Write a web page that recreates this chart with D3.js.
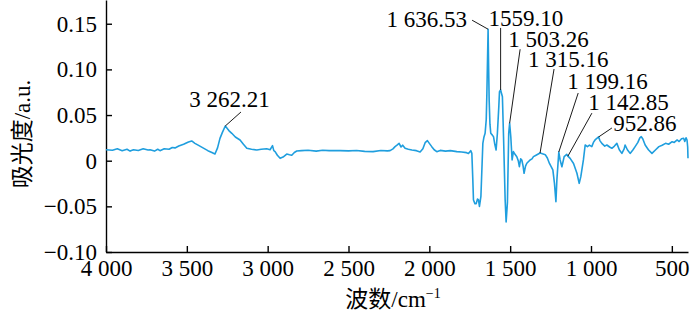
<!DOCTYPE html>
<html>
<head>
<meta charset="utf-8">
<script src="https://cdn.jsdelivr.net/npm/d3@7"></script>
<style>
  body { margin: 0; background: #fff; }
  text { font-family: "Liberation Serif", "Times New Roman", serif; }
</style>
</head>
<body>
<svg width="700" height="315"></svg>
<script>
// spectrum (wavenumber in cm-1, absorbance in a.u.)
var wavenumber = [4000,3960,3930,3900,3870,3851,3830,3800,3770,3740,3728,3700,3680,3666,3640,3610,3590,3573,3550,3520,3490,3470,3450,3430,3400,3370,3345,3326,3310,3295,3280,3262.21,3240,3222,3200,3171,3150,3129,3100,3067,3040,3006,2985,2970,2962,2954,2940,2923,2905,2882,2865,2851,2835,2820,2790,2750,2700,2660,2620,2580,2552,2500,2450,2400,2348,2300,2260,2243,2225,2212,2200,2187,2175,2165,2150,2130,2108,2080,2057,2040,2026,2012,2000,1985,1970,1954,1933,1900,1870,1830,1800,1770,1758,1744,1737,1731,1727,1718,1710,1702,1696,1690,1681,1675,1669,1662,1655,1648,1644,1636.53,1633,1630,1625,1620,1610,1603,1595,1587,1579,1570,1566,1559.10,1548,1541,1531,1525,1517,1509,1503.26,1496,1488,1480,1470,1459,1450,1443,1435,1428,1420,1414,1405,1397,1377,1365,1356,1340,1315.16,1300,1283,1270,1257,1236,1226,1217,1211,1199.16,1191,1180,1166,1150,1142.85,1129,1108,1087,1073,1063,1047,1036,1022,1010,995,985,975,952.86,945,933,915,902,885,871,855,840,825,809,795,789,775,758,740,727,710,698,689,680,665,645,623,600,580,560,539,520,498,485,467,455,440,427,420,412,406,402,400];
var absorbance = [0.012,0.0115,0.013,0.011,0.0125,0.0105,0.012,0.0112,0.013,0.0118,0.012,0.0105,0.0125,0.011,0.013,0.0125,0.0145,0.014,0.016,0.018,0.0205,0.0216,0.019,0.017,0.014,0.011,0.009,0.0073,0.014,0.0245,0.031,0.038,0.033,0.030,0.026,0.0227,0.018,0.0136,0.0125,0.0117,0.0125,0.013,0.012,0.0165,0.011,0.010,0.006,0.0026,0.004,0.0073,0.0065,0.006,0.009,0.0106,0.011,0.0115,0.0105,0.0115,0.011,0.0112,0.011,0.0108,0.0112,0.0102,0.0099,0.0112,0.0108,0.011,0.013,0.0154,0.017,0.019,0.015,0.017,0.0136,0.0125,0.0117,0.011,0.0095,0.013,0.0197,0.022,0.019,0.0154,0.012,0.0099,0.0113,0.0105,0.011,0.0099,0.0095,0.0088,0.008,0.011,0.008,-0.021,-0.043,-0.047,-0.047,-0.042,-0.043,-0.050,-0.039,-0.010,0.019,0.026,0.030,0.045,0.074,0.144,0.100,0.0666,0.040,0.030,0.028,0.0263,0.018,0.0117,0.030,0.060,0.0757,0.0775,0.070,0.026,-0.043,-0.067,-0.046,0.030,0.041,0.026,0.0008,0.0099,0.007,0.0044,0.000,-0.0066,0.002,0.0008,-0.006,-0.0138,-0.006,-0.0028,0.0008,0.002,0.0044,0.006,0.0084,0.0075,0.0066,0.003,-0.003,-0.010,-0.0248,-0.045,-0.021,0.0095,0.0008,-0.0066,0.0044,0.007,0.005,0.0026,-0.003,-0.0138,-0.0248,-0.0175,0.0008,0.0172,0.0154,0.017,0.0154,0.020,0.0227,0.026,0.022,0.019,0.016,0.0172,0.015,0.0136,0.016,0.019,0.012,0.008,0.013,0.0172,0.012,0.008,0.012,0.0154,0.020,0.025,0.0263,0.024,0.0172,0.012,0.008,0.012,0.0154,0.017,0.019,0.018,0.0208,0.020,0.0227,0.021,0.024,0.0245,0.021,0.025,0.0227,0.015,0.0026];

// labelled peaks
var peakWn = [3262.21, 1636.53, 1559.10, 1503.26, 1315.16, 1199.16, 1142.85, 952.86];
var peakAbs = [0.038, 0.144, 0.0775, 0.041, 0.0084, 0.0095, 0.005, 0.026];
var peakLabel = ["3 262.21", "1 636.53", "1559.10", "1 503.26", "1 315.16", "1 199.16", "1 142.85", "952.86"];

var xTicks = [4000, 3500, 3000, 2500, 2000, 1500, 1000, 500];
var yTicks = [-0.10, -0.05, 0, 0.05, 0.10, 0.15];

var svg = d3.select("svg");
var plotLeft = 106, plotRight = 688, plotTop = 0, plotBottom = 252;

var x = d3.scaleLinear().domain([4000, 400]).range([plotLeft, plotRight]);
var y = d3.scaleLinear().domain([-0.10, 0.176]).range([plotBottom, plotTop]);

// axes
var xAxis = svg.append("g")
  .attr("transform", "translate(0," + plotBottom + ")")
  .call(d3.axisBottom(x).tickValues(xTicks).tickSize(-6).tickSizeOuter(0).tickPadding(8)
    .tickFormat(function(d) { return d3.format(",")(d).replace(",", " "); }));

var yAxis = svg.append("g")
  .attr("transform", "translate(" + plotLeft + ",0)")
  .call(d3.axisLeft(y).tickValues(yTicks).tickSize(-6).tickSizeOuter(0).tickPadding(9)
    .tickFormat(function(d) { return d === 0 ? "0" : d3.format(".2f")(d); }));

[xAxis, yAxis].forEach(function(g) {
  g.attr("font-size", 23).attr("font-family", "Liberation Serif, serif");
  g.selectAll("path, line").attr("stroke", "#000").attr("stroke-width", 1.4);
  g.selectAll("text").attr("fill", "#000");
});

// spectrum
var pts = wavenumber.map(function(w, i) { return [w, absorbance[i]]; });
svg.append("path")
  .datum(pts)
  .attr("fill", "none")
  .attr("stroke", "#1f9ede")
  .attr("stroke-width", 1.6)
  .attr("stroke-linejoin", "round")
  .attr("d", d3.line().x(function(d) { return x(d[0]); }).y(function(d) { return y(d[1]); }));

// label placement relative to each peak (px): text dx, dy, anchor, leader end dx, dy
var labelPos = [
  [-36, -19, "start", 15.7, -14],
  [-21, -2, "end", -16, -9],
  [-12, -64, "start", 0, -62],
  [-1.5, -76, "start", 10.5, -74],
  [-12, -86, "start", 14, -84],
  [8.4, -63, "start", 19.4, -59],
  [20.3, -46, "start", 24, -43],
  [14.6, -6, "start", 13.3, -9]
];

var ann = svg.append("g");
peakWn.forEach(function(w, i) {
  var px = x(w), py = y(peakAbs[i]), p = labelPos[i];
  ann.append("line")
    .attr("x1", px).attr("y1", py)
    .attr("x2", px + p[3]).attr("y2", py + p[4])
    .attr("stroke", "#000").attr("stroke-width", 0.9);
  ann.append("text")
    .attr("x", px + p[0]).attr("y", py + p[1])
    .attr("text-anchor", p[2])
    .attr("font-size", 23)
    .text(peakLabel[i]);
});

// axis titles
svg.append("text")
  .attr("transform", "translate(30,134) rotate(-90)")
  .attr("text-anchor", "middle")
  .attr("font-size", 23)
  .html('<tspan style="font-family:\'Noto Sans CJK SC\'">吸光度</tspan>/a.u.');

svg.append("text")
  .attr("x", 393).attr("y", 307)
  .attr("text-anchor", "middle")
  .attr("font-size", 23)
  .html('<tspan style="font-family:\'Noto Sans CJK SC\'">波数</tspan>/cm<tspan dy="-9" font-size="14">−1</tspan>');
</script>
</body>
</html>
